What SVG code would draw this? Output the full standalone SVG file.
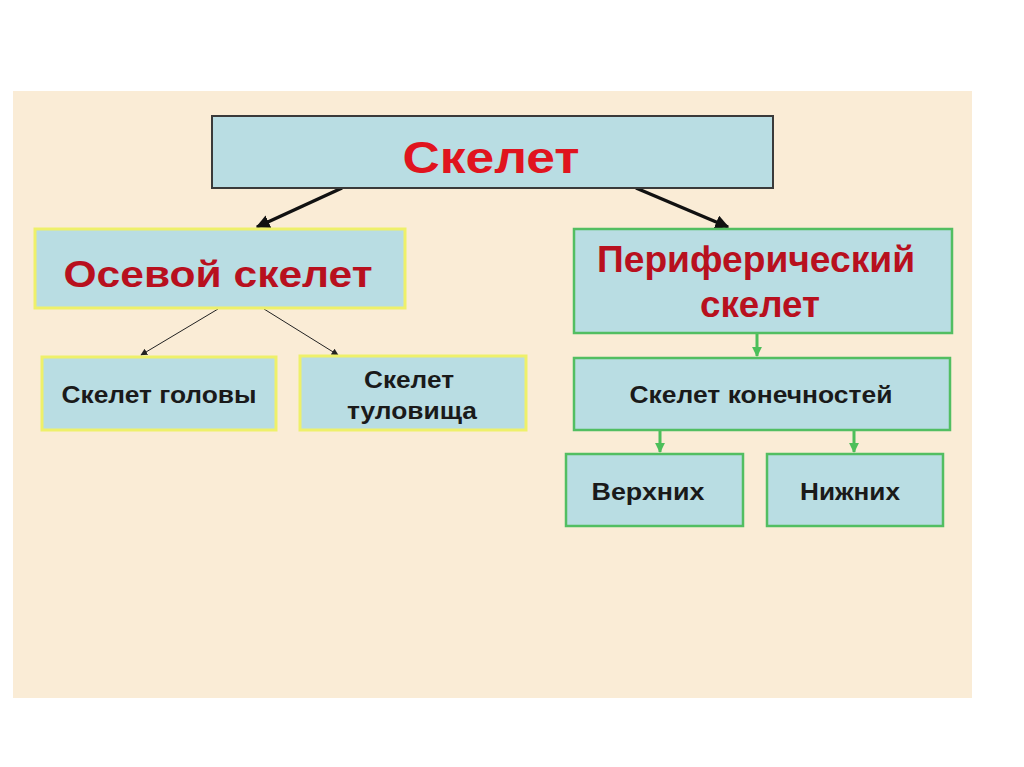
<svg xmlns="http://www.w3.org/2000/svg" width="1024" height="767" viewBox="0 0 1024 767">
<style>
.box{fill:#B9DDE3}
.yb{stroke:#EEF06A;stroke-width:3}
.gb{stroke:#52BE62;stroke-width:2.5}
.t{font-family:"Liberation Sans",Arial,sans-serif;font-weight:bold;text-anchor:middle}
.big{fill:#B8101E;font-size:37px}
.sm{fill:#1A1A1A;font-size:23px}
.thick{stroke:#111;stroke-width:3.5;fill:none}
.thin{stroke:#222;stroke-width:1;fill:none}
.grn{stroke:#4CBF5A;stroke-width:3;fill:none}
</style>
<defs>
<marker id="ab" viewBox="0 0 10 10" refX="9" refY="5" markerWidth="4" markerHeight="4" orient="auto"><path d="M0,0 L10,5 L0,10 z" fill="#111"/></marker>
<marker id="at" viewBox="0 0 10 10" refX="9" refY="5" markerWidth="7" markerHeight="7" markerUnits="userSpaceOnUse" orient="auto"><path d="M0,0 L10,5 L0,10 z" fill="#222"/></marker>
<marker id="ag" viewBox="0 0 10 10" refX="9" refY="5" markerWidth="3.3" markerHeight="3.3" orient="auto"><path d="M0,0 L10,5 L0,10 z" fill="#4CBF5A"/></marker>
</defs>
<rect width="1024" height="767" fill="#FFFFFF"/>
<rect x="13" y="91" width="959" height="607" fill="#FAECD6"/>
<g id="connectors">
<line class="thick" x1="342" y1="188" x2="257" y2="227" marker-end="url(#ab)"/>
<line class="thick" x1="636" y1="188" x2="728" y2="227" marker-end="url(#ab)"/>
<line class="thin" x1="218" y1="309" x2="141" y2="355" marker-end="url(#at)"/>
<line class="thin" x1="264" y1="309" x2="338" y2="355" marker-end="url(#at)"/>
<line class="grn" x1="757" y1="334" x2="757" y2="356" marker-end="url(#ag)"/>
<line class="grn" x1="660" y1="429" x2="660" y2="452" marker-end="url(#ag)"/>
<line class="grn" x1="854" y1="429" x2="854" y2="452" marker-end="url(#ag)"/>
</g>
<g id="skelet">
<rect class="box" x="212" y="116" width="561" height="72" stroke="#3A3A3A" stroke-width="2"/>
<text class="t" x="491" y="173" font-size="44" fill="#E0141E" textLength="177" lengthAdjust="spacingAndGlyphs">Скелет</text>
</g>
<g id="osevoy">
<rect class="box yb" x="35" y="229" width="370" height="79"/>
<text class="t big" x="218" y="287" textLength="309" lengthAdjust="spacingAndGlyphs">Осевой скелет</text>
</g>
<g id="periph">
<rect class="box gb" x="574" y="229" width="378" height="104"/>
<text class="t big" x="756" y="272" font-size="35" textLength="318" lengthAdjust="spacingAndGlyphs">Периферический</text>
<text class="t big" x="760" y="317" font-size="35" textLength="120" lengthAdjust="spacingAndGlyphs">скелет</text>
</g>
<g id="golova">
<rect class="box yb" x="42" y="357" width="234" height="73"/>
<text class="t sm" x="159" y="403" textLength="195" lengthAdjust="spacingAndGlyphs">Скелет головы</text>
</g>
<g id="tulov">
<rect class="box yb" x="300" y="356" width="226" height="74"/>
<text class="t sm" x="409" y="388" textLength="90" lengthAdjust="spacingAndGlyphs">Скелет</text>
<text class="t sm" x="412" y="419" textLength="130" lengthAdjust="spacingAndGlyphs">туловища</text>
</g>
<g id="konech">
<rect class="box gb" x="574" y="358" width="376" height="72"/>
<text class="t sm" x="761" y="403" textLength="263" lengthAdjust="spacingAndGlyphs">Скелет конечностей</text>
</g>
<g id="verh">
<rect class="box gb" x="566" y="454" width="177" height="72"/>
<text class="t sm" x="648" y="500" textLength="113" lengthAdjust="spacingAndGlyphs">Верхних</text>
</g>
<g id="nizh">
<rect class="box gb" x="767" y="454" width="176" height="72"/>
<text class="t sm" x="850" y="500" textLength="100" lengthAdjust="spacingAndGlyphs">Нижних</text>
</g>
</svg>
